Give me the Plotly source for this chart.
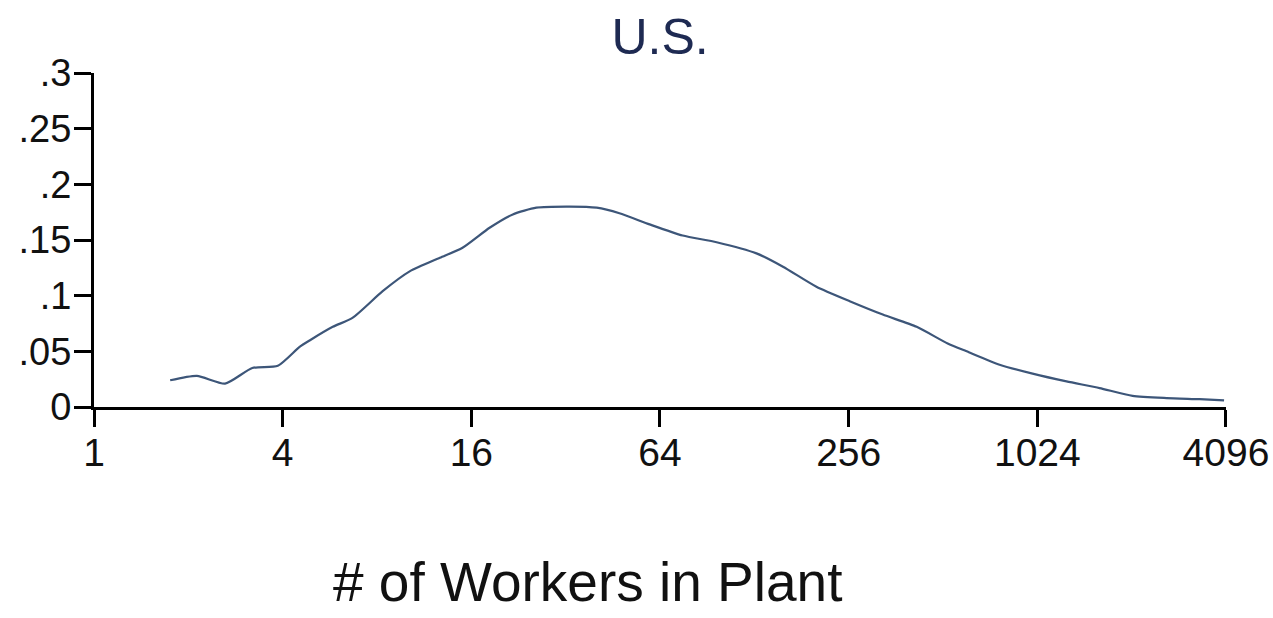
import plotly.graph_objects as go

# Data (x = # of workers, y = density)
workers = [1.75, 2.13, 2.62, 3.2, 3.86, 4.53, 4.89, 5.78, 6.68, 8.34, 10.2, 12.7, 15.0,
           18.3, 21.7, 25.8, 32.9, 40.2, 47.5, 59.3, 75.6, 97, 130, 158, 202, 258,
           329, 422, 530, 609, 776, 989, 1269, 1618, 2062, 2647, 3373, 4039]
density = [0.024, 0.028, 0.021, 0.035, 0.037, 0.054, 0.060, 0.072, 0.080, 0.104, 0.122,
           0.134, 0.143, 0.161, 0.173, 0.179, 0.180, 0.179, 0.174, 0.164, 0.154, 0.148,
           0.138, 0.126, 0.108, 0.095, 0.083, 0.072, 0.057, 0.050, 0.038, 0.030, 0.023,
           0.017, 0.010, 0.008, 0.007, 0.006]

x_tickvals = [1, 4, 16, 64, 256, 1024, 4096]
x_ticktext = ["1", "4", "16", "64", "256", "1024", "4096"]
y_tickvals = [0, 0.05, 0.1, 0.15, 0.2, 0.25, 0.3]
y_ticktext = ["0", ".05", ".1", ".15", ".2", ".25", ".3"]

title_text = "U.S."
xtitle_text = "# of Workers in Plant"

FONT = "Liberation Sans, Arial, sans-serif"

fig = go.Figure()
fig.add_trace(go.Scatter(
    x=workers, y=density, mode="lines",
    line=dict(color="#3d5679", width=2.2, shape="spline", smoothing=0.6),
    showlegend=False, hoverinfo="skip",
))

W, H = 1273, 618
L, R, T, B = 94, 47, 73, 211

fig.update_layout(
    width=W, height=H,
    margin=dict(l=L, r=R, t=T, b=B, autoexpand=False),
    paper_bgcolor="white", plot_bgcolor="white",
    font=dict(family=FONT, color="#111111"),
    showlegend=False,
    title=dict(text=title_text, x=(L + (W - L - R) / 2) / W, xanchor="center",
               y=1 - 36 / H, yanchor="middle", yref="container",
               font=dict(family=FONT, size=50, color="#1e2a52")),
    xaxis=dict(
        type="log", range=[0, 3.6124], tickmode="array",
        tickvals=x_tickvals, ticktext=x_ticktext,
        showline=True, linecolor="black", linewidth=3,
        ticks="outside", ticklen=17, tickwidth=3, tickcolor="black",
        showgrid=False, zeroline=False, automargin=False,
        ticklabelstandoff=-8,
        tickfont=dict(family=FONT, size=39, color="#111111"),
    ),
    yaxis=dict(
        range=[0, 0.3], tickmode="array",
        tickvals=y_tickvals, ticktext=y_ticktext,
        showline=True, linecolor="black", linewidth=3,
        ticks="outside", ticklen=17, tickwidth=3, tickcolor="black",
        showgrid=False, zeroline=False, automargin=False,
        ticklabelstandoff=-5,
        tickfont=dict(family=FONT, size=38, color="#111111"),
    ),
)

plot_h = H - T - B
fig.add_annotation(
    text=xtitle_text, xref="paper", yref="paper",
    x=(587.5 - L) / (W - L - R), y=(H - B - 582) / plot_h,
    xanchor="center", yanchor="middle", showarrow=False,
    font=dict(family=FONT, size=55, color="#111111"),
)

fig.write_html("out.html", config={"displayModeBar": False},
               post_script="document.body.style.margin='0';")
